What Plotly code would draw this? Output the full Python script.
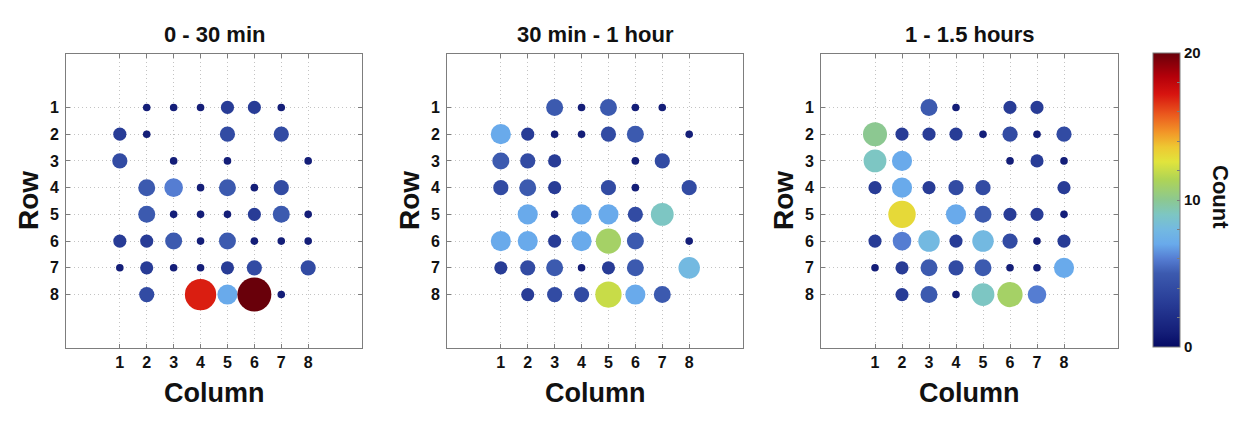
import plotly.graph_objects as go

# ---------------- data ----------------
COLUMNS = [1, 2, 3, 4, 5, 6, 7, 8]
ROWS = [1, 2, 3, 4, 5, 6, 7, 8]
PANEL_TITLES = ["0 - 30 min", "30 min - 1 hour", "1 - 1.5 hours"]

# counts[row-1][col-1]; 0 = no marker
counts_0_30 = [
    [0, 1, 1, 1, 3, 3, 1, 0],
    [3, 1, 0, 0, 4, 0, 4, 0],
    [4, 0, 1, 0, 1, 0, 0, 1],
    [0, 5, 6, 1, 5, 1, 4, 0],
    [0, 5, 1, 1, 1, 3, 5, 1],
    [3, 3, 5, 1, 5, 1, 1, 1],
    [1, 3, 1, 1, 3, 4, 0, 4],
    [0, 4, 0, 17, 7, 20, 1, 0],
]
counts_30_60 = [
    [0, 0, 5, 1, 5, 1, 1, 0],
    [7, 3, 1, 1, 4, 5, 0, 1],
    [5, 4, 3, 0, 0, 1, 4, 0],
    [4, 5, 3, 0, 4, 1, 0, 4],
    [0, 7, 1, 7, 7, 4, 9, 0],
    [7, 7, 3, 7, 11, 5, 0, 1],
    [3, 4, 5, 1, 3, 5, 0, 8],
    [0, 3, 4, 4, 12, 7, 5, 0],
]
counts_60_90 = [
    [0, 0, 5, 1, 0, 3, 3, 0],
    [10, 3, 3, 3, 1, 4, 1, 4],
    [9, 7, 0, 0, 0, 1, 3, 1],
    [3, 7, 3, 4, 4, 0, 0, 3],
    [0, 13, 0, 7, 5, 3, 3, 1],
    [3, 6, 8, 3, 8, 4, 1, 3],
    [1, 3, 5, 4, 5, 1, 1, 7],
    [0, 3, 5, 1, 9, 11, 6, 0],
]
PANELS = [counts_0_30, counts_30_60, counts_60_90]
CBAR_TICKS = [0, 10, 20]

# ---------------- style ----------------
PAGE_W, PAGE_H = 1245, 424
OFF = 8  # default body margin of the html page
W, H = PAGE_W - OFF, PAGE_H - OFF
FONT = "Liberation Sans, Arial, sans-serif"


def px_x(x):
    return (x - OFF) / W


def px_y(y):
    return 1 - (y - OFF) / H


colorscale = [
    [0.00, "rgb(5,10,100)"],
    [0.05, "rgb(20,30,120)"],
    [0.15, "rgb(40,60,150)"],
    [0.25, "rgb(60,90,175)"],
    [0.30, "rgb(85,125,210)"],
    [0.35, "rgb(105,170,235)"],
    [0.40, "rgb(115,185,225)"],
    [0.45, "rgb(125,198,195)"],
    [0.50, "rgb(140,200,145)"],
    [0.57, "rgb(175,212,85)"],
    [0.63, "rgb(225,228,60)"],
    [0.68, "rgb(238,200,50)"],
    [0.73, "rgb(242,150,40)"],
    [0.79, "rgb(235,90,30)"],
    [0.86, "rgb(215,20,15)"],
    [0.92, "rgb(180,0,10)"],
    [1.00, "rgb(105,0,10)"],
]

panel_px = [(66, 362), (447, 743), (821, 1118)]
top_px, bot_px = 54, 348
ydom = [px_y(bot_px), px_y(top_px)]

fig = go.Figure()
annotations = []
for i, (counts, (l, r)) in enumerate(zip(PANELS, panel_px)):
    xs, ys, cs = [], [], []
    for ri, row in enumerate(ROWS):
        for ci, col in enumerate(COLUMNS):
            c = counts[ri][ci]
            if c > 0:
                xs.append(col)
                ys.append(row)
                cs.append(c)
    n = "" if i == 0 else str(i + 1)
    fig.add_trace(go.Scatter(
        x=xs, y=ys, mode="markers",
        xaxis="x" + n, yaxis="y" + n,
        marker=dict(size=cs, sizemode="area", sizeref=0.0346,
                    color=cs, coloraxis="coloraxis", line=dict(width=0), opacity=1),
        showlegend=False, hovertemplate="Col %{x}, Row %{y}: %{marker.color}<extra></extra>",
    ))
    axcommon = dict(
        showline=True, linecolor="rgb(125,125,125)", linewidth=1, mirror="ticks",
        ticks="inside", ticklen=4, tickcolor="rgb(125,125,125)",
        showgrid=True, gridcolor="rgb(195,195,195)", griddash="1px,3px", gridwidth=1,
        zeroline=False, tickfont=dict(family=FONT, size=16, color="#111"),
        fixedrange=True,
    )
    fig.update_layout(**{
        "xaxis" + n: dict(axcommon, domain=[px_x(l), px_x(r)], range=[-1, 10],
                          tickvals=COLUMNS, ticktext=[f"<b>{c}</b>" for c in COLUMNS],
                          anchor="y" + n, ticklabelstandoff=0),
        "yaxis" + n: dict(axcommon, domain=ydom, range=[10, -1],
                          tickvals=ROWS, ticktext=[f"<b>{rr}</b>" for rr in ROWS],
                          anchor="x" + n, ticklabelstandoff=3),
    })
    cx = px_x((l + r) / 2)
    annotations.append(dict(text=f"<b>{PANEL_TITLES[i]}</b>", x=cx, y=px_y(35),
                            xref="paper", yref="paper", showarrow=False,
                            font=dict(family=FONT, size=22, color="#111"),
                            xanchor="center", yanchor="middle"))
    annotations.append(dict(text="<b>Column</b>", x=cx, y=px_y(393),
                            xref="paper", yref="paper", showarrow=False,
                            font=dict(family=FONT, size=27, color="#111"),
                            xanchor="center", yanchor="middle"))
    annotations.append(dict(text="<b>Row</b>", x=px_x(l - 38), y=px_y(201),
                            xref="paper", yref="paper", showarrow=False, textangle=-90,
                            font=dict(family=FONT, size=28, color="#111"),
                            xanchor="center", yanchor="middle"))

annotations.append(dict(text="<b>Count</b>", x=px_x(1221), y=px_y(197),
                        xref="paper", yref="paper", showarrow=False, textangle=90,
                        font=dict(family=FONT, size=22, color="#111"),
                        xanchor="center", yanchor="middle"))

cb_ticks = list(range(0, 21, 2))
fig.update_layout(
    width=W, height=H,
    margin=dict(l=0, r=0, t=0, b=0),
    paper_bgcolor="white", plot_bgcolor="white",
    annotations=annotations,
    coloraxis=dict(
        colorscale=colorscale, cmin=0, cmax=20,
        colorbar=dict(
            x=px_x(1153), xanchor="left", xref="paper", xpad=0, ypad=0,
            y=px_y(347), yanchor="bottom", yref="paper",
            len=(347 - 53) / H, lenmode="fraction",
            thickness=27, thicknessmode="pixels",
            outlinewidth=1, outlinecolor="rgb(125,125,125)",
            tickvals=cb_ticks,
            ticktext=[f"<b>{t}</b>" if t in CBAR_TICKS else "" for t in cb_ticks],
            ticks="inside", ticklen=3, tickcolor="rgb(125,125,125)",
            tickfont=dict(family=FONT, size=15, color="#111"),
            ticklabelposition="outside",
        ),
    ),
)

fig.write_html("out.html")
